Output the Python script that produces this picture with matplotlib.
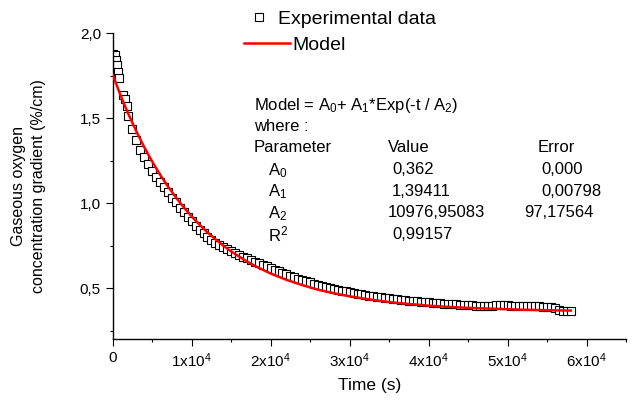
import matplotlib
matplotlib.use("Agg")
import matplotlib.pyplot as plt
from matplotlib.lines import Line2D
from matplotlib.ticker import FixedLocator, FuncFormatter

plt.rcParams["font.family"] = ["Liberation Sans", "DejaVu Sans"]
plt.rcParams["mathtext.fontset"] = "custom"
plt.rcParams["mathtext.rm"] = "Liberation Sans"
plt.rcParams["mathtext.it"] = "Liberation Sans:italic"

exp_time = [100, 250, 400, 550, 700, 850, 1300, 1500, 1750] + list(range(2000, 58001, 500))
exp_value = [
    1.880, 1.872, 1.845, 1.812, 1.775, 1.735, 1.640, 1.615, 1.575,
    1.514, 1.437, 1.373, 1.315, 1.270, 1.229, 1.191, 1.157, 1.124, 1.093,
    1.064, 1.034, 1.005, 0.975, 0.946, 0.919,
    0.893, 0.869, 0.845, 0.823, 0.801, 0.784, 0.769, 0.754, 0.741, 0.729,
    0.717, 0.707, 0.697, 0.686, 0.676, 0.667, 0.657, 0.647, 0.639, 0.629,
    0.619, 0.609, 0.600, 0.591, 0.582, 0.573, 0.564, 0.557, 0.549, 0.542,
    0.535, 0.528, 0.521, 0.515, 0.509, 0.503, 0.498, 0.492, 0.487, 0.482,
    0.478, 0.474, 0.469, 0.465, 0.462, 0.457, 0.454, 0.451, 0.447, 0.444,
    0.442, 0.438, 0.435, 0.433, 0.430, 0.428, 0.426, 0.424, 0.422, 0.419,
    0.417, 0.416, 0.413, 0.412, 0.410, 0.408, 0.407, 0.405, 0.403, 0.402,
    0.401, 0.399, 0.398, 0.397, 0.396, 0.395, 0.395, 0.399, 0.402, 0.403,
    0.401, 0.398, 0.396, 0.395, 0.394, 0.393, 0.393, 0.393, 0.393, 0.392,
    0.391, 0.390, 0.383, 0.370, 0.366, 0.366, 0.368,
]

# fitted model curve
model_time = [0, 1000, 2000, 3000, 4000, 5000, 6000, 7000, 8000, 9000, 10000,
              11000, 12000, 13000, 14000, 15000, 16000, 17000, 18000, 19000, 20000,
              22000, 24000, 26000, 28000, 30000, 32000, 34000, 36000, 38000, 40000,
              42000, 44000, 46000, 48000, 50000, 52000, 54000, 56000, 58000]
model_value = [1.756, 1.635, 1.524, 1.423, 1.330, 1.246, 1.169, 1.099, 1.035, 0.976, 0.923,
               0.874, 0.829, 0.789, 0.751, 0.717, 0.687, 0.658, 0.632, 0.609, 0.587,
               0.550, 0.519, 0.492, 0.471, 0.453, 0.438, 0.425, 0.414, 0.406, 0.398,
               0.392, 0.387, 0.383, 0.380, 0.377, 0.374, 0.372, 0.370, 0.369]

x_major = [0, 10000, 20000, 30000, 40000, 50000, 60000]
y_major = [0.5, 1.0, 1.5, 2.0]

rows = [("A$_0$", "0,362", "0,000"),
        ("A$_1$", "1,39411", "0,00798"),
        ("A$_2$", "10976,95083", "97,17564"),
        ("R$^2$", "0,99157", "")]

W, H = 634, 401

def fx(x):
    return x / W

def fy(y):
    return 1 - y / H

fig = plt.figure(figsize=(W / 100, H / 100), dpi=100)
ax = fig.add_axes([fx(112.7), fy(339.3), (626 - 112.7) / W, (339.3 - 33.3) / H])

ax.plot(exp_time, exp_value, ls="none", marker="s", ms=5.2, mfc="white",
        mec="black", mew=0.8)
ax.plot(model_time, model_value, color="red", lw=1.8, zorder=3)

ax.set_xlim(0, 65000)
ax.set_ylim(0.2, 2.0)
for s in ("top", "right"):
    ax.spines[s].set_visible(False)
for s in ("left", "bottom"):
    ax.spines[s].set_linewidth(1.0)

ax.xaxis.set_major_locator(FixedLocator(x_major))
ax.xaxis.set_minor_locator(FixedLocator([5000 + 10000 * i for i in range(7)]))
ax.yaxis.set_major_locator(FixedLocator(y_major))
ax.yaxis.set_minor_locator(FixedLocator([0.25, 0.75, 1.25, 1.75]))
ax.xaxis.set_major_formatter(FuncFormatter(
    lambda v, p: "0" if v == 0 else "%dx10$^{4}$" % round(v / 10000)))
ax.yaxis.set_major_formatter(FuncFormatter(lambda v, p: ("%.1f" % v).replace(".", ",")))
ax.tick_params(which="major", direction="out", length=5, width=0.8, labelsize=11)
ax.tick_params(which="minor", direction="out", length=2.5, width=0.8)

ax.set_xlabel("Time (s)", fontsize=12.5, labelpad=6)
ax.set_ylabel("Gaseous oxygen\nconcentration gradient (%/cm)", fontsize=11.5,
              linespacing=1.45, labelpad=24)

# legend, drawn in figure pixels
fig.add_artist(Line2D([fx(259)], [fy(17)], ls="none", marker="s", ms=5.2,
                      mfc="white", mec="black", mew=0.8))
fig.text(fx(278), fy(17), "Experimental data", fontsize=14, va="center_baseline")
fig.add_artist(Line2D([fx(244), fx(290)], [fy(43), fy(43)], color="red", lw=1.8))
fig.text(fx(292), fy(43), "Model", fontsize=14, va="center_baseline")

# fit report
fs = 12
fig.text(fx(254), fy(103), "Model = A$_0$+ A$_1$*Exp(-t / A$_2$)", fontsize=fs, va="center_baseline")
fig.text(fx(254), fy(125), "where :", fontsize=fs, va="center_baseline")
fig.text(fx(254), fy(146), "Parameter", fontsize=fs, va="center_baseline")
fig.text(fx(388), fy(146), "Value", fontsize=fs, va="center_baseline")
fig.text(fx(538), fy(146), "Error", fontsize=fs, va="center_baseline")
for i, (name, val, err) in enumerate(rows):
    y = 168 + 21.7 * i
    fig.text(fx(268), fy(y), name, fontsize=fs, va="center_baseline")
    fig.text(fx(388 if len(val) > 8 else 392), fy(y), val, fontsize=fs, va="center_baseline")
    fig.text(fx(524 if err.startswith("97") else 541), fy(y), err, fontsize=fs, va="center_baseline")

fig.savefig("out.png", dpi=100)
